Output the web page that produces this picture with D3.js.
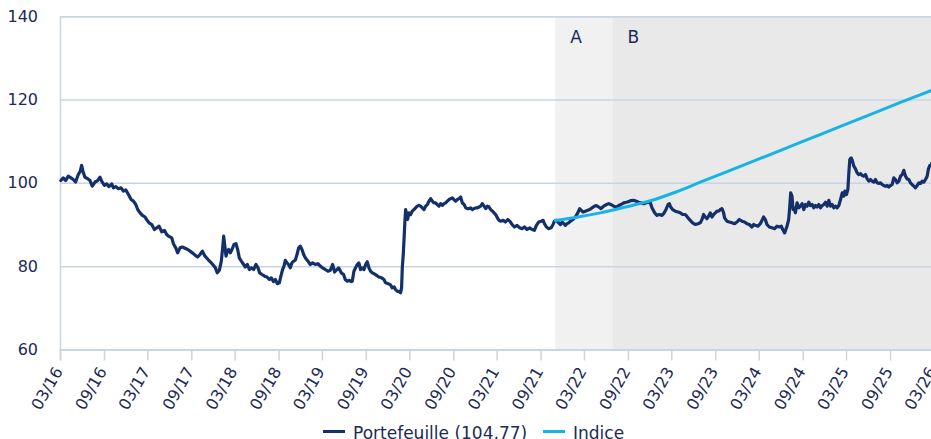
<!DOCTYPE html>
<html><head><meta charset="utf-8">
<script src="https://cdn.jsdelivr.net/npm/d3@7"></script>
<style>
body{margin:0;background:#fff;overflow:hidden}
svg{display:block;font-family:"DejaVu Sans",Verdana,sans-serif}
</style>
</head><body>
<svg id="chart" width="931" height="439"></svg>
<script>
// ---------------- DATA ----------------
const yTicks = [60, 80, 100, 120, 140];
const xTickDates = ["2016-03-01","2016-09-01","2017-03-01","2017-09-01","2018-03-01","2018-09-01",
  "2019-03-01","2019-09-01","2020-03-01","2020-09-01","2021-03-01","2021-09-01","2022-03-01",
  "2022-09-01","2023-03-01","2023-09-01","2024-03-01","2024-09-01","2025-03-01","2025-09-01","2026-03-01"];
const xDomain = ["2016-03-01", "2026-03-01"];
const zoneLabels = ["A", "B"];
const zoneStarts = ["2021-11-01", "2022-06-28"];
const legendLabels = ["Portefeuille (104,77)", "Indice"];

// Portefeuille: dates as decimal years, values as index level
const portYears = [
2016.174,2016.201,2016.228,2016.258,2016.289,2016.316,2016.342,2016.373,2016.396,2016.411,2016.426,2016.449,2016.480,2016.507,2016.533,2016.564,2016.594,2016.621,2016.640,2016.671,2016.697,2016.724,2016.755,2016.774,2016.800,2016.831,2016.862,2016.888,2016.915,2016.946,2016.976,
2017.003,2017.030,2017.052,2017.079,2017.106,2017.136,2017.159,2017.182,2017.213,2017.243,2017.270,2017.297,2017.327,2017.358,2017.384,2017.404,2017.442,2017.461,2017.488,2017.510,2017.537,2017.564,2017.594,2017.625,2017.652,2017.678,2017.709,2017.739,2017.766,2017.793,2017.823,
2017.858,2017.884,2017.911,2017.942,2017.964,2017.987,2018.010,2018.025,2018.037,2018.048,2018.064,2018.079,2018.094,2018.113,2018.132,2018.155,2018.178,2018.197,2018.216,2018.239,2018.266,2018.285,2018.308,2018.331,2018.354,2018.380,2018.407,2018.430,2018.449,2018.476,2018.506,2018.533,2018.560,2018.583,2018.606,2018.629,2018.651,2018.674,2018.697,2018.712,2018.728,2018.743,2018.762,2018.781,2018.800,2018.819,2018.838,2018.857,2018.877,2018.896,2018.915,2018.934,2018.953,2018.972,
2019.003,2019.029,2019.056,2019.087,2019.117,2019.144,2019.171,2019.201,2019.232,2019.258,2019.285,2019.308,2019.335,2019.354,2019.384,2019.411,2019.430,2019.453,2019.476,2019.499,
2019.510,2019.529,2019.548,2019.567,2019.586,2019.605,2019.625,2019.644,2019.663,2019.682,2019.701,2019.720,2019.739,2019.758,2019.785,2019.815,2019.846,2019.873,2019.892,2019.922,2019.949,2019.968,2019.991,
2020.006,2020.025,2020.044,2020.063,2020.075,2020.083,2020.094,2020.102,2020.113,2020.121,2020.132,2020.144,2020.159,2020.178,2020.197,2020.216,2020.235,2020.254,2020.273,2020.292,2020.312,2020.331,2020.350,2020.369,2020.388,2020.407,2020.426,2020.445,2020.464,2020.483,2020.502,2020.521,2020.541,2020.560,2020.579,2020.598,2020.617,2020.636,2020.655,2020.674,2020.693,2020.712,2020.731,2020.750,2020.769,2020.789,2020.808,2020.827,2020.846,2020.865,2020.884,2020.903,2020.922,2020.941,2020.960,2020.979,2020.998,
2021.018,2021.037,2021.056,2021.075,2021.094,2021.113,2021.132,2021.151,2021.170,2021.189,2021.205,2021.236,2021.262,2021.289,2021.312,2021.339,2021.365,2021.396,2021.426,2021.453,2021.480,2021.510,2021.541,2021.568,2021.594,2021.617,2021.644,2021.671,2021.694,2021.709,2021.732,2021.758,2021.785,2021.808,2021.823,2021.846,2021.873,2021.892,2021.911,2021.930,2021.949,2021.968,2021.987,
2022.007,2022.037,2022.064,2022.091,2022.113,2022.129,2022.152,2022.178,2022.205,2022.228,2022.255,2022.281,2022.304,2022.331,2022.358,2022.388,2022.419,2022.446,2022.472,2022.503,2022.533,2022.560,2022.587,2022.617,2022.648,2022.675,2022.701,2022.732,2022.762,2022.789,2022.816,2022.846,2022.896,2022.922,2022.941,2022.972,2022.999,
2023.025,2023.056,2023.075,2023.102,2023.125,2023.140,2023.155,2023.178,2023.209,2023.239,2023.266,2023.292,2023.323,2023.354,2023.380,2023.407,2023.437,2023.468,2023.495,2023.514,2023.533,2023.552,2023.571,2023.590,2023.609,2023.628,2023.647,2023.667,2023.686,2023.705,2023.724,2023.743,2023.762,2023.773,2023.800,2023.827,2023.857,2023.888,2023.915,2023.941,2023.972,
2024.002,2024.029,2024.056,2024.086,2024.105,2024.125,2024.155,2024.182,2024.201,2024.220,2024.239,2024.258,2024.285,2024.315,2024.346,2024.373,2024.399,2024.422,2024.438,2024.460,2024.487,2024.506,2024.518,2024.529,2024.544,2024.556,
2024.564,2024.583,2024.602,2024.621,2024.641,2024.660,2024.679,2024.698,2024.717,2024.736,2024.755,2024.774,2024.793,2024.812,2024.831,2024.850,2024.870,2024.889,2024.908,2024.927,2024.946,2024.965,2024.984,
2025.003,2025.022,2025.041,2025.060,2025.079,2025.099,2025.118,2025.137,2025.148,2025.167,2025.183,2025.194,2025.205,2025.221,2025.236,2025.251,2025.270,2025.289,2025.308,2025.328,2025.347,2025.366,2025.385,2025.404,2025.423,2025.442,2025.461,2025.480,2025.499,2025.518,2025.537,2025.557,2025.576,2025.595,2025.614,2025.633,2025.652,2025.671,2025.690,2025.709,2025.728,2025.747,2025.767,2025.786,2025.805,2025.824,2025.843,2025.862,2025.881,2025.900,2025.919,2025.938,2025.957,2025.977,2025.996,
2026.015,2026.034,2026.053,2026.072,2026.091,2026.106,2026.121,2026.141,2026.145];
const portValues = [
100.55,101.2,100.55,101.6,101.2,100.8,100.2,102.0,102.8,104.2,102.8,101.35,101.0,100.55,99.2,100.2,100.55,101.35,100.4,99.4,99.75,99.1,99.75,98.8,99.1,98.6,98.8,98.0,98.3,97.2,96.0,
95.6,94.8,93.6,92.8,92.2,91.8,91.0,90.4,90.0,88.8,89.2,89.6,88.25,88.6,87.6,87.2,86.8,85.4,84.4,83.2,84.4,84.6,84.3,84.0,83.6,83.2,82.65,82.2,82.8,83.6,82.4,
81.6,81.05,80.4,79.6,78.4,79.0,81.2,84.4,87.2,85.2,82.4,83.6,84.0,83.2,84.0,85.2,85.4,84.0,82.0,81.2,80.4,79.8,80.4,79.2,79.6,79.2,80.4,79.6,78.4,78.0,77.6,77.4,76.8,77.2,76.3,76.8,75.8,76.0,78.0,79.2,80.0,81.4,80.8,80.4,79.6,80.8,81.2,81.4,82.8,84.4,84.8,84.0,82.8,82.0,
81.2,80.4,80.8,80.4,80.6,80.0,79.6,79.2,78.8,79.0,80.4,78.6,79.2,79.6,78.4,78.0,76.8,76.4,76.6,76.3,
76.4,78.8,79.6,80.4,80.8,79.2,79.6,79.2,80.4,81.05,79.6,78.8,78.4,78.2,77.85,77.4,77.2,76.8,76.0,75.8,75.5,74.8,75.0,
74.4,74.0,73.9,73.6,74.8,79.6,82.8,86.0,90.8,93.6,92.4,91.2,92.8,92.4,93.2,93.6,94.0,94.4,94.6,94.4,94.0,93.6,94.4,94.8,95.6,96.2,95.6,95.2,95.2,94.8,94.4,95.0,94.6,95.0,95.2,95.6,96.0,96.2,96.4,96.0,95.6,96.0,96.2,96.6,95.2,94.8,94.0,93.8,93.8,94.0,93.6,93.8,94.0,94.0,94.2,94.4,95.0,
94.4,93.8,94.4,94.2,93.6,93.2,92.8,92.4,91.6,91.0,90.8,91.0,90.6,91.2,90.8,90.0,89.4,89.8,89.2,89.0,89.4,88.8,89.2,88.8,88.6,89.8,90.6,90.8,91.0,90.2,89.4,89.0,89.2,90.0,90.8,91.0,90.4,90.0,90.6,90.2,89.8,90.2,90.4,
90.8,91.2,91.8,92.8,93.8,93.4,93.0,93.2,93.4,93.6,94.0,94.4,94.55,94.2,93.8,94.4,94.8,95.0,94.8,94.4,94.2,94.55,94.8,95.2,95.35,95.5,95.75,95.8,95.6,95.35,95.2,95.0,95.35,95.2,94.0,92.8,92.2,
92.4,92.2,92.6,93.6,94.8,95.0,94.2,93.6,93.2,93.0,92.8,92.4,92.4,91.6,91.0,90.4,90.0,90.2,90.4,91.2,92.4,91.8,91.4,92.0,92.8,91.8,92.4,92.8,93.2,93.2,93.6,93.8,92.8,91.6,90.8,90.6,90.4,90.2,90.6,91.2,90.8,
90.6,90.2,90.0,89.4,90.0,89.8,89.6,90.2,91.0,91.8,91.2,90.0,89.4,89.2,89.0,89.6,89.4,89.6,88.8,88.0,89.6,91.2,94.2,97.6,96.8,93.6,
94.0,92.8,95.2,94.0,94.4,95.0,93.6,94.8,94.4,95.35,94.55,94.8,94.0,94.55,94.2,94.8,94.0,94.55,94.8,95.35,94.4,95.8,94.4,
94.8,94.0,94.4,94.0,94.55,96.0,97.6,96.8,98.0,97.2,98.4,102.4,105.6,106.0,105.2,104.0,103.35,102.4,102.0,102.2,101.75,101.6,102.0,100.95,100.4,100.8,100.4,100.15,100.8,100.0,99.85,100.0,99.6,99.35,99.2,99.35,99.0,99.35,99.6,101.2,100.8,100.0,100.4,101.6,102.0,103.0,101.6,100.95,100.8,100.0,99.6,99.2,98.8,99.35,100.0,
99.85,100.4,100.15,100.8,101.6,103.35,104.15,104.4,104.77];

// Indice
const idxYears  = [2021.835,2022.093,2022.350,2022.636,2022.923,2023.209,2023.495,2024.068,2024.640,2025.213,2025.785,2026.145];
const idxValues = [90.96,91.82,92.8,94.2,95.7,97.75,100.15,104.9,109.7,114.5,119.3,122.2];

// ---------------- STYLE ----------------
const C = {
  navy: "#13306b", cyan: "#17b3e6", grid: "#cad4e3", text: "#1b2a56",
  zoneFill: ["#f1f1f1", "#e9e9e9"]
};

// ---------------- DRAW ----------------
const parse = d3.timeParse("%Y-%m-%d");
function yearToDate(t){
  const yr = Math.floor(t);
  const a = new Date(yr,0,1), b = new Date(yr+1,0,1);
  return new Date(+a + (t-yr)*(b-a));
}
const svg = d3.select("#chart");
const mLeft = 60, mRight = 933.3, mTop = 16.2, mBottom = 349.5;
const x = d3.scaleTime().domain(xDomain.map(parse)).range([mLeft, mRight]);
const y = d3.scaleLinear().domain([yTicks[0], yTicks[yTicks.length-1]]).range([mBottom, mTop]);

// zones
const zEnd = parse(xDomain[1]);
zoneStarts.forEach((s,i)=>{
  const x0 = x(parse(s));
  const x1 = i < zoneStarts.length-1 ? x(parse(zoneStarts[i+1])) : x(zEnd);
  svg.append("rect").attr("x",x0).attr("y",mTop).attr("width",x1-x0).attr("height",mBottom-mTop)
    .attr("fill",C.zoneFill[i]);
});

// y grid
const yAxis = d3.axisLeft(y).tickValues(yTicks).tickSize(-(mRight-mLeft)).tickPadding(22);
const gy = svg.append("g").attr("transform",`translate(${mLeft},0)`).call(yAxis);
gy.select(".domain").attr("stroke",C.grid).attr("stroke-width",1.5);
gy.selectAll(".tick line").attr("stroke",C.grid).attr("stroke-width",1.5);
gy.selectAll(".tick text").attr("fill",C.text).attr("font-size",16).attr("font-family","DejaVu Sans, Verdana, sans-serif");

// zone labels
zoneStarts.forEach((s,i)=>{
  svg.append("text").attr("x",x(parse(s))+15).attr("y",43).attr("fill",C.text)
    .attr("font-size",17).text(zoneLabels[i]);
});

// x axis
const xAxis = d3.axisBottom(x).tickValues(xTickDates.map(parse)).tickFormat(d3.timeFormat("%m/%y")).tickSize(11).tickPadding(4);
const gx = svg.append("g").attr("transform",`translate(0,${mBottom})`).call(xAxis);
gx.select(".domain").attr("stroke",C.grid).attr("stroke-width",1.5);
gx.selectAll(".tick line").attr("stroke",C.grid).attr("stroke-width",1.5);
gx.selectAll(".tick text").attr("fill",C.text).attr("font-size",16).attr("font-family","DejaVu Sans, Verdana, sans-serif")
  .attr("text-anchor","end").attr("dy",null).attr("y",null)
  .attr("dominant-baseline","central")
  .attr("transform","translate(-2,19) rotate(-60)");

// lines
const port = portYears.map((t,i)=>({d:yearToDate(t), v:portValues[i]}));
const idx = idxYears.map((t,i)=>({d:yearToDate(t), v:idxValues[i]}));
svg.append("path").datum(port).attr("fill","none").attr("stroke",C.navy).attr("stroke-width",3.2)
  .attr("stroke-linejoin","round").attr("stroke-linecap","round")
  .attr("d", d3.line().x(p=>x(p.d)).y(p=>y(p.v)));
svg.append("path").datum(idx).attr("fill","none").attr("stroke",C.cyan).attr("stroke-width",3)
  .attr("stroke-linecap","round")
  .attr("d", d3.line().curve(d3.curveMonotoneX).x(p=>x(p.d)).y(p=>y(p.v)));

// legend
const leg = [{c:C.navy, x:323, tx:353}, {c:C.cyan, x:543, tx:573}];
leg.forEach((l,i)=>{
  svg.append("line").attr("x1",l.x).attr("x2",l.x+22).attr("y1",431.5).attr("y2",431.5)
    .attr("stroke",l.c).attr("stroke-width",3);
  svg.append("text").attr("x",l.tx).attr("y",438.5).attr("fill",C.text).attr("font-size",17)
    .text(legendLabels[i]);
});
</script>
</body></html>
